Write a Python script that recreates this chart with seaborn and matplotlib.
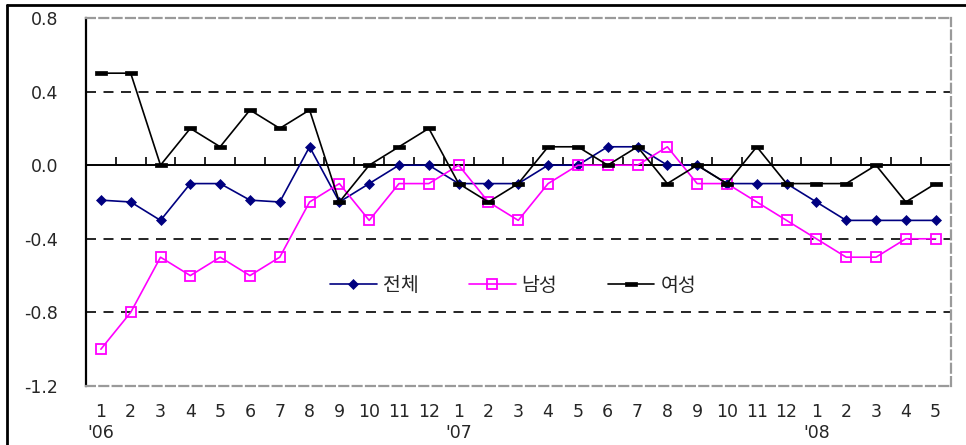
import numpy as np
import pandas as pd
import matplotlib
matplotlib.use("Agg")
import matplotlib.pyplot as plt
from matplotlib.lines import Line2D
from matplotlib.ticker import FormatStrFormatter
import seaborn as sns

# 2006.1 ~ 2008.5 monthly values
months = ["1", "2", "3", "4", "5", "6", "7", "8", "9", "10", "11", "12",
          "1", "2", "3", "4", "5", "6", "7", "8", "9", "10", "11", "12",
          "1", "2", "3", "4", "5"]
years = {0: "'06", 12: "'07", 24: "'08"}

total = [-0.19, -0.2, -0.3, -0.1, -0.1, -0.19, -0.2, 0.1, -0.2, -0.1, 0.0, 0.0,
         -0.1, -0.1, -0.1, 0.0, 0.0, 0.1, 0.1, 0.0, 0.0, -0.1, -0.1, -0.1,
         -0.2, -0.3, -0.3, -0.3, -0.3]
male = [-1.0, -0.8, -0.5, -0.6, -0.5, -0.6, -0.5, -0.2, -0.1, -0.3, -0.1, -0.1,
        0.0, -0.2, -0.3, -0.1, 0.0, 0.0, 0.0, 0.1, -0.1, -0.1, -0.2, -0.3,
        -0.4, -0.5, -0.5, -0.4, -0.4]
female = [0.5, 0.5, 0.0, 0.2, 0.1, 0.3, 0.2, 0.3, -0.2, 0.0, 0.1, 0.2,
          -0.1, -0.2, -0.1, 0.1, 0.1, 0.0, 0.1, -0.1, 0.0, -0.1, 0.1, -0.1,
          -0.1, -0.1, 0.0, -0.2, -0.1]

yticks = [0.8, 0.4, 0.0, -0.4, -0.8, -1.2]
grid_vals = [0.4, -0.4, -0.8]

sns.set_style("white")
plt.rcParams['font.family'] = ['DejaVu Sans', 'Noto Sans CJK KR']

idx = np.arange(len(months))
df = pd.DataFrame({"idx": idx, "전체": total, "남성": male, "여성": female})

fig = plt.figure(figsize=(9.66, 4.45), dpi=100)
ax = fig.add_axes([0.089, 0.1326, 0.895, 0.827])

# black bar marker
bar = [(-1, -0.38), (1, -0.38), (1, 0.38), (-1, 0.38), (-1, -0.38)]

sns.lineplot(data=df, x="idx", y="전체", ax=ax, color="#000080", lw=1.2,
             marker="D", ms=5.5, markerfacecolor="#000080",
             markeredgecolor="#000080", markeredgewidth=0.5, label="전체")
sns.lineplot(data=df, x="idx", y="남성", ax=ax, color="#FF00FF", lw=1.2,
             marker="s", ms=7.5, markerfacecolor="none",
             markeredgecolor="#FF00FF", markeredgewidth=1.3, label="남성")
sns.lineplot(data=df, x="idx", y="여성", ax=ax, color="black", lw=1.2,
             marker=bar, ms=8, markerfacecolor="black",
             markeredgecolor="black", markeredgewidth=0.5, label="여성")

ymin, ymax = -1.2, 0.8
ax.set_xlim(-0.5, len(months) - 0.5)
ax.set_ylim(ymin, ymax)

for g in grid_vals:
    ax.axhline(g, color="black", lw=1.2, ls=(0, (6, 4.5)), zorder=0.5)

# frame
for side in ["top", "right", "bottom"]:
    ax.spines[side].set_color("#9a9a9a")
    ax.spines[side].set_linewidth(1.6)
    ax.spines[side].set_linestyle((0, (4, 2)))
ax.spines["left"].set_color("black")
ax.spines["left"].set_linewidth(1.6)

ax.set_yticks(yticks)
ax.yaxis.set_major_formatter(FormatStrFormatter('%.1f'))
ax.tick_params(axis="y", length=0, pad=20, labelsize=12.5)

labels = [m + ("\n" + years[i] if i in years else "") for i, m in enumerate(months)]
ax.set_xticks(idx)
ax.set_xticklabels(labels, va="top", fontsize=12.5, linespacing=1.25)
ax.tick_params(axis="x", length=0, pad=12)
ax.set_xlabel("")
ax.set_ylabel("")

# zero line with category ticks pointing up
zero_pos = (0 - ymin) / (ymax - ymin)
sec = ax.secondary_xaxis(zero_pos)
sec.set_alignment("bottom")
for s in sec.spines.values():
    s.set_visible(False)
sec.spines["bottom"].set_visible(True)
sec.spines["bottom"].set_color("black")
sec.spines["bottom"].set_linewidth(1.4)
sec.set_xticks(np.arange(0.5, len(months) - 0.5, 1.0))
sec.tick_params(axis="x", direction="in", length=6, width=1.2, color="black",
                labelbottom=False, labeltop=False)

ax.legend(loc="center", bbox_to_anchor=(0.494, 0.274), ncol=3, frameon=False,
          fontsize=14, handlelength=2.4, handletextpad=0.3, columnspacing=2.6)

# outer frame of the picture
fig.add_artist(Line2D([0.007, 1.0], [0.989, 0.989], color="black", lw=2))
fig.add_artist(Line2D([0.007, 0.007], [0.0, 0.989], color="black", lw=2))

fig.savefig("out.png", dpi=100)
